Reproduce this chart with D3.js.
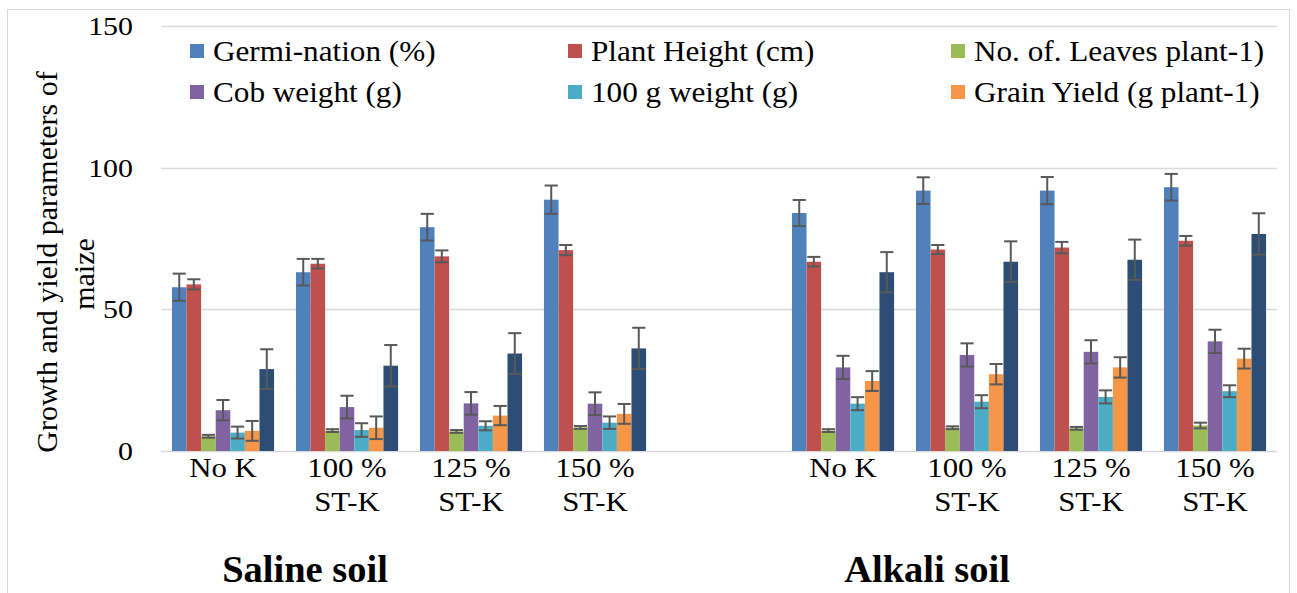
<!DOCTYPE html>
<html>
<head>
<meta charset="utf-8">
<script src="https://cdn.jsdelivr.net/npm/d3@7"></script>
<style>
  html, body { margin: 0; padding: 0; background: #fff; }
  svg { display: block; }
  svg text { font-family: "Liberation Serif", "Times New Roman", Times, serif; }
</style>
</head>
<body>
<svg id="chart" width="1297" height="593"></svg>
<script>
// Treatments (index 4 is an empty spacer slot between the two soils)
const categories = ["No K", "100 %|ST-K", "125 %|ST-K", "150 %|ST-K", "", "No K", "100 %|ST-K", "125 %|ST-K", "150 %|ST-K"];
const soils = ["Saline soil", "Alkali soil"];
const yTicks = [0, 50, 100, 150];

// Series means and standard errors per treatment
const germination    = [57.8, 63.1, 79.0, 88.7, null, 84.0, 91.9, 91.9, 93.1];
const germinationErr = [4.8, 4.7, 4.7, 5.0, null, 4.6, 4.7, 4.8, 4.7];
const plantHeight    = [58.8, 66.1, 68.7, 70.9, null, 66.8, 71.1, 71.8, 74.2];
const plantHeightErr = [1.8, 1.7, 2.1, 1.8, null, 1.7, 1.6, 2.0, 1.7];
const leaves         = [5.2, 7.2, 6.9, 8.3, null, 7.2, 8.2, 8.0, 9.0];
const leavesErr      = [0.5, 0.5, 0.5, 0.5, null, 0.5, 0.5, 0.5, 1.0];
const cobWeight      = [14.4, 15.5, 16.8, 16.7, null, 29.5, 33.9, 35.0, 38.7];
const cobWeightErr   = [3.6, 4.0, 4.0, 4.0, null, 4.1, 4.1, 4.1, 4.1];
const seedWeight     = [6.5, 7.4, 8.9, 10.0, null, 16.7, 17.4, 19.1, 21.1];
const seedWeightErr  = [2.1, 2.4, 1.6, 2.2, null, 2.3, 2.3, 2.3, 2.1];
const grainYield     = [7.1, 8.2, 12.5, 13.1, null, 24.7, 27.1, 29.5, 32.6];
const grainYieldErr  = [3.5, 4.0, 3.4, 3.5, null, 3.5, 3.6, 3.6, 3.5];
const seriesSeven    = [28.9, 30.1, 34.4, 36.2, null, 63.1, 66.8, 67.5, 76.6];
const seriesSevenErr = [7.0, 7.3, 7.2, 7.3, null, 7.1, 7.2, 7.1, 7.3];

const seriesNames = ["Germi-nation (%)", "Plant Height (cm)", "No. of. Leaves plant-1)",
                     "Cob weight (g)", "100 g weight (g)", "Grain Yield (g plant-1)", ""];
const seriesValues = [germination, plantHeight, leaves, cobWeight, seedWeight, grainYield, seriesSeven];
const seriesErrors = [germinationErr, plantHeightErr, leavesErr, cobWeightErr, seedWeightErr, grainYieldErr, seriesSevenErr];
const seriesColors = ["#4F81BD", "#C0504D", "#9BBB59", "#8064A2", "#4BACC6", "#F79646", "#2C4D75"];

const FONT = "'Liberation Serif', 'Times New Roman', Times, serif";
const svg = d3.select("#chart");

// Outer chart frame
svg.append("rect").attr("x", 7.5).attr("y", 9.5).attr("width", 1282).attr("height", 600)
  .attr("fill", "none").attr("stroke", "#D9D9D9").attr("stroke-width", 1);

const x0 = d3.scaleBand().domain(d3.range(categories.length)).range([161, 1277]).padding(0);
const x1 = d3.scaleBand().domain(d3.range(seriesValues.length)).range([0, x0.bandwidth()])
  .paddingInner(0).paddingOuter(0.75);
const y = d3.scaleLinear().domain([0, 150]).range([451, 26]);

// Horizontal gridlines
svg.append("g").selectAll("line").data(yTicks).join("line")
  .attr("x1", 161).attr("x2", 1277)
  .attr("y1", d => Math.round(y(d)) + 0.5).attr("y2", d => Math.round(y(d)) + 0.5)
  .attr("stroke", "#D9D9D9").attr("stroke-width", 1.5);

// Stretched text helper
function stext(g, x, yy, str, size, sx, anchor, weight) {
  return g.append("text")
    .attr("transform", `translate(${x},${yy}) scale(${sx},1)`)
    .attr("font-family", FONT)
    .attr("text-anchor", anchor).attr("font-size", size)
    .attr("font-weight", weight || "normal").attr("fill", "#000").text(str);
}

// Y tick labels
const yAxisG = svg.append("g");
yTicks.forEach(t => stext(yAxisG, 133, y(t) + 9, String(t), 26, 1.15, "end"));

// Y axis title (two lines)
const title = svg.append("g").attr("font-family", FONT).attr("font-size", 30)
  .attr("fill", "#000").attr("text-anchor", "middle");
title.append("text").attr("transform", "translate(57,262) rotate(-90)").text("Growth and yield parameters of");
title.append("text").attr("transform", "translate(94,274) rotate(-90)").text("maize");

// Bars and error bars
const groups = svg.append("g").selectAll("g").data(categories.map((c, i) => i)).join("g")
  .attr("transform", i => `translate(${x0(i)},0)`);

groups.each(function(ci) {
  const g = d3.select(this);
  seriesValues.forEach((vals, si) => {
    const v = vals[ci];
    if (v == null) return;
    const e = seriesErrors[si][ci];
    const bx = x1(si), bw = x1.bandwidth();
    g.append("rect").attr("x", bx).attr("width", bw)
      .attr("y", y(v)).attr("height", y(0) - y(v)).attr("fill", seriesColors[si]);
    const cx = bx + bw / 2, cap = bw * 0.45;
    const eg = g.append("g").attr("stroke", "#595959").attr("stroke-width", 2);
    eg.append("line").attr("x1", cx).attr("x2", cx).attr("y1", y(v + e)).attr("y2", y(v - e));
    eg.append("line").attr("x1", cx - cap).attr("x2", cx + cap).attr("y1", y(v + e)).attr("y2", y(v + e));
    eg.append("line").attr("x1", cx - cap).attr("x2", cx + cap).attr("y1", y(v - e)).attr("y2", y(v - e));
  });
});

// Category labels
const xAxisG = svg.append("g");
categories.forEach((c, i) => {
  if (!c) return;
  const cx = x0(i) + x0.bandwidth() / 2;
  c.split("|").forEach((line, li) => stext(xAxisG, cx, 477 + li * 34, line, 28, 1.1, "middle"));
});

// Soil group labels
stext(svg, 305, 582, soils[0], 37, 1.04, "middle", "bold");
stext(svg, 927, 582, soils[1], 37, 1.04, "middle", "bold");

// Legend (first six series)
const legendPos = [[190, 44], [568, 44], [951, 44], [190, 85], [568, 85], [951, 85]];
const legend = svg.append("g");
legendPos.forEach(([lx, ly], i) => {
  legend.append("rect").attr("x", lx).attr("y", ly).attr("width", 14).attr("height", 14)
    .attr("fill", seriesColors[i]);
  stext(legend, lx + 23, ly + 17, seriesNames[i], 30, 1.04, "start");
});
</script>
</body>
</html>
